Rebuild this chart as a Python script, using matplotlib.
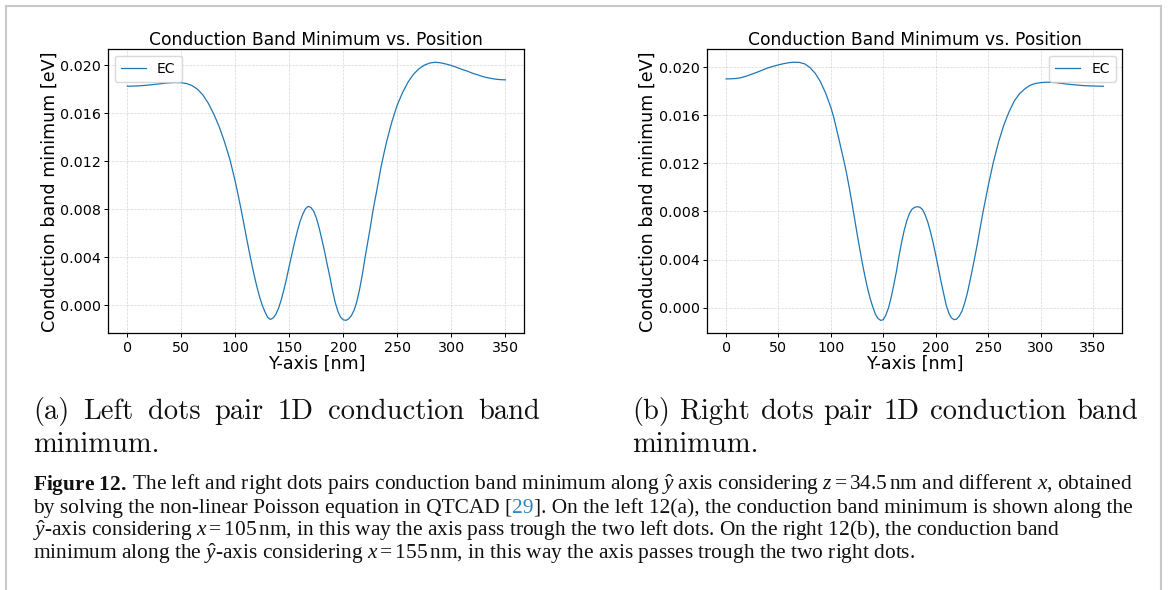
import numpy as np
import matplotlib
matplotlib.use("Agg")
import matplotlib.pyplot as plt
from matplotlib.lines import Line2D

# ---------------------------------------------------------------- data
# Left dot pair: conduction band minimum along y (x = 105 nm)
y_left_nm = (
    [0, 5, 10, 15, 20, 25, 30, 35, 40, 45, 50, 55, 60, 65, 70, 75, 80, 85, 90, 95]
    + [100 + 2.5 * i for i in range(57)]
    + [245, 250, 255, 260, 265, 270, 275, 280, 285, 290, 295, 300, 305, 310,
       315, 320, 325, 330, 335, 340, 345, 350]
)
ec_left = [
    # 0 .. 95
    0.01825, 0.01826, 0.01828, 0.01831, 0.01835, 0.01840, 0.01845, 0.01850,
    0.01854, 0.01856, 0.01854, 0.01847, 0.01830, 0.01800, 0.01752, 0.01683,
    0.01595, 0.01490, 0.01362, 0.01215,
    # 100 .. 240 (2.5 nm steps)
    0.01030, 0.00925, 0.00815, 0.00700, 0.00580, 0.00465, 0.00355, 0.00250,
    0.00155, 0.00070, 0.00000, -0.00055, -0.00100, -0.00117, -0.00105, -0.00075,
    -0.00025, 0.00045, 0.00130, 0.00225, 0.00330, 0.00430, 0.00530, 0.00620,
    0.00700, 0.00760, 0.00805, 0.00825, 0.00815, 0.00785, 0.00730, 0.00650,
    0.00555, 0.00455, 0.00345, 0.00240, 0.00125, 0.00025, -0.00050, -0.00098,
    -0.00120, -0.00125, -0.00112, -0.00085, -0.00040, 0.00030, 0.00130, 0.00250,
    0.00390, 0.00520, 0.00650, 0.00790, 0.00910, 0.01030, 0.01155, 0.01260,
    0.01360,
    # 245 .. 350
    0.01530, 0.01670, 0.01775, 0.01860, 0.01925, 0.01970, 0.02000, 0.02018,
    0.02025, 0.02020, 0.02010, 0.01998, 0.01982, 0.01965, 0.01950, 0.01932,
    0.01918, 0.01903, 0.01893, 0.01885, 0.01880, 0.01878,
]

# Right dot pair: conduction band minimum along y (x = 155 nm)
y_right_nm = (
    [0, 5, 10, 15, 20, 25, 30, 35, 40, 45, 50, 55, 60, 65, 70, 75, 80, 85, 90, 95]
    + [100 + 2.5 * i for i in range(57)]
    + [245, 250, 255, 260, 265, 270, 275, 280, 285, 290, 295, 300, 305, 310,
       315, 320, 325, 330, 335, 340, 345, 350, 355, 360]
)
ec_right = [
    # 0 .. 95
    0.01903, 0.01904, 0.01907, 0.01915, 0.01928, 0.01944, 0.01960, 0.01978,
    0.01995, 0.02008, 0.02020, 0.02030, 0.02038, 0.02042, 0.02040, 0.02028,
    0.01998, 0.01950, 0.01880, 0.01785,
    # 100 .. 240 (2.5 nm steps)
    0.01665, 0.01590, 0.01500, 0.01408, 0.01312, 0.01218, 0.01115, 0.01000,
    0.00875, 0.00745, 0.00615, 0.00490, 0.00370, 0.00260, 0.00160, 0.00075,
    0.00005, -0.00055, -0.00090, -0.00106, -0.00100, -0.00060, 0.00000, 0.00085,
    0.00190, 0.00300, 0.00430, 0.00545, 0.00645, 0.00725, 0.00785, 0.00820,
    0.00835, 0.00840, 0.00835, 0.00815, 0.00770, 0.00710, 0.00630, 0.00540,
    0.00440, 0.00330, 0.00220, 0.00120, 0.00020, -0.00045, -0.00085, -0.00100,
    -0.00095, -0.00070, -0.00030, 0.00035, 0.00115, 0.00215, 0.00320, 0.00430,
    0.00545,
    # 245 .. 360
    0.00790, 0.01010, 0.01210, 0.01380, 0.01520, 0.01630, 0.01720, 0.01780,
    0.01820, 0.01850, 0.01865, 0.01872, 0.01875, 0.01875, 0.01872, 0.01866,
    0.01860, 0.01856, 0.01852, 0.01848, 0.01846, 0.01844, 0.01843, 0.01842,
]

y_ticks = [0.000, 0.004, 0.008, 0.012, 0.016, 0.020]
x_ticks = [0, 50, 100, 150, 200, 250, 300, 350]

title_text = "Conduction Band Minimum vs. Position"
xlabel_text = "Y-axis [nm]"
ylabel_text = "Conduction band minimum [eV]"
legend_label = "EC"

sub_a = ["(a) Left dots pair 1D conduction band", "minimum."]
sub_b = ["(b) Right dots pair 1D conduction band", "minimum."]

# ---------------------------------------------------------------- figure
W, H = 1168, 590
fig = plt.figure(figsize=(W / 100, H / 100), dpi=100)
fig.patch.set_facecolor("white")


def fx(x):
    return x / W


def fy(y):
    return 1 - y / H


def make_axes(left, right, top, bottom):
    return fig.add_axes([fx(left), fy(bottom), (right - left) / W, (bottom - top) / H])


def draw_panel(ax, xs, ys, legend_loc):
    ax.plot(xs, ys, color="#1f77b4", lw=0.9, label=legend_label,
            solid_joinstyle="round")
    ax.set_xticks(x_ticks)
    ax.set_yticks(y_ticks)
    ax.yaxis.set_major_formatter(matplotlib.ticker.FormatStrFormatter("%.3f"))
    ax.tick_params(labelsize=10.3, length=3, width=0.7, pad=2.5)
    ax.grid(True, linestyle="--", linewidth=0.5, color="#b0b0b0", alpha=0.5)
    ax.set_title(title_text, fontsize=12.3, pad=3.0)
    ax.set_xlabel(xlabel_text, fontsize=12.6, labelpad=0)
    ax.set_ylabel(ylabel_text, fontsize=12.6, labelpad=1)
    for s in ax.spines.values():
        s.set_linewidth(0.9)
    ax.legend(loc=legend_loc, fontsize=10.0, handlelength=1.8,
              borderpad=0.45, borderaxespad=0.45, framealpha=0.8,
              edgecolor="#d0d0d0")


ax1 = make_axes(108.4, 524.2, 49.3, 333.3)
draw_panel(ax1, y_left_nm, ec_left, "upper left")

ax2 = make_axes(707.2, 1122.3, 49.3, 333.3)
draw_panel(ax2, y_right_nm, ec_right, "upper right")

# ---------------------------------------------------------------- page frame
frame_kw = dict(color="#c8c8c8", lw=1.5, transform=fig.transFigure)
fig.add_artist(Line2D([fx(5.5), fx(1160.5)], [fy(5.5), fy(5.5)], **frame_kw))
fig.add_artist(Line2D([fx(5.5), fx(5.5)], [fy(5.5), fy(590)], **frame_kw))
fig.add_artist(Line2D([fx(1160.5), fx(1160.5)], [fy(5.5), fy(590)], **frame_kw))

renderer = fig.canvas.get_renderer()


def justified_line(text, x0, x1, y, **kw):
    """Place the words of a line so that it fills [x0, x1] pixels."""
    words = text.split()
    arts = [fig.text(0, fy(y), w, ha="left", va="baseline", **kw) for w in words]
    widths = [a.get_window_extent(renderer).width for a in arts]
    gap = (x1 - x0 - sum(widths)) / max(len(words) - 1, 1)
    x = x0
    for a, w in zip(arts, widths):
        a.set_x(fx(x))
        x += w + gap


def pieces_line(pieces, x0, y, **kw):
    """Draw consecutive text pieces with individual styles on one baseline."""
    x = x0
    for s, extra in pieces:
        props = dict(kw)
        props.update(extra)
        t = fig.text(fx(x), fy(y), s, ha="left", va="baseline", **props)
        x += t.get_window_extent(renderer).width


sub_kw = dict(family="cmr10", fontsize=20.5, color="#111111")
justified_line(sub_a[0], 33, 540, 419, **sub_kw)
fig.text(fx(33), fy(452), sub_a[1], ha="left", va="baseline", **sub_kw)
justified_line(sub_b[0], 632, 1138, 419, **sub_kw)
fig.text(fx(632), fy(452), sub_b[1], ha="left", va="baseline", **sub_kw)

# ---------------------------------------------------------------- caption
plt.rcParams["mathtext.fontset"] = "custom"
plt.rcParams["mathtext.rm"] = "Liberation Serif"
plt.rcParams["mathtext.it"] = "Liberation Serif:italic"
plt.rcParams["mathtext.bf"] = "Liberation Serif:bold"

cap_kw = dict(family="Liberation Serif", fontsize=15.4, color="#111111")
ref_color = "#2f86c0"

pieces_line([
    (r"$\mathbf{Figure\ 12.}$", {}),
    (r" The left and right dots pairs conduction band "
     r"minimum along $\hat{y}$ axis considering $z = 34.5\,$nm and different "
     r"$x$, obtained", {}),
], 33, 490, **cap_kw)
pieces_line([
    ("by solving the non-linear Poisson equation in QTCAD [", {}),
    ("29", {"color": ref_color}),
    ("]. On the left 12(a), the conduction band minimum is shown along the", {}),
], 33, 513, **cap_kw)
pieces_line([
    (r"$\hat{y}$-axis considering $x = 105\,$nm, in this way the axis pass "
     r"trough the two left dots. On the right 12(b), the conduction band", {}),
], 33, 536, **cap_kw)
pieces_line([
    (r"minimum along the $\hat{y}$-axis considering $x = 155\,$nm, in this way "
     r"the axis passes trough the two right dots.", {}),
], 33, 559, **cap_kw)

fig.savefig("out.png", dpi=100, facecolor="white")
